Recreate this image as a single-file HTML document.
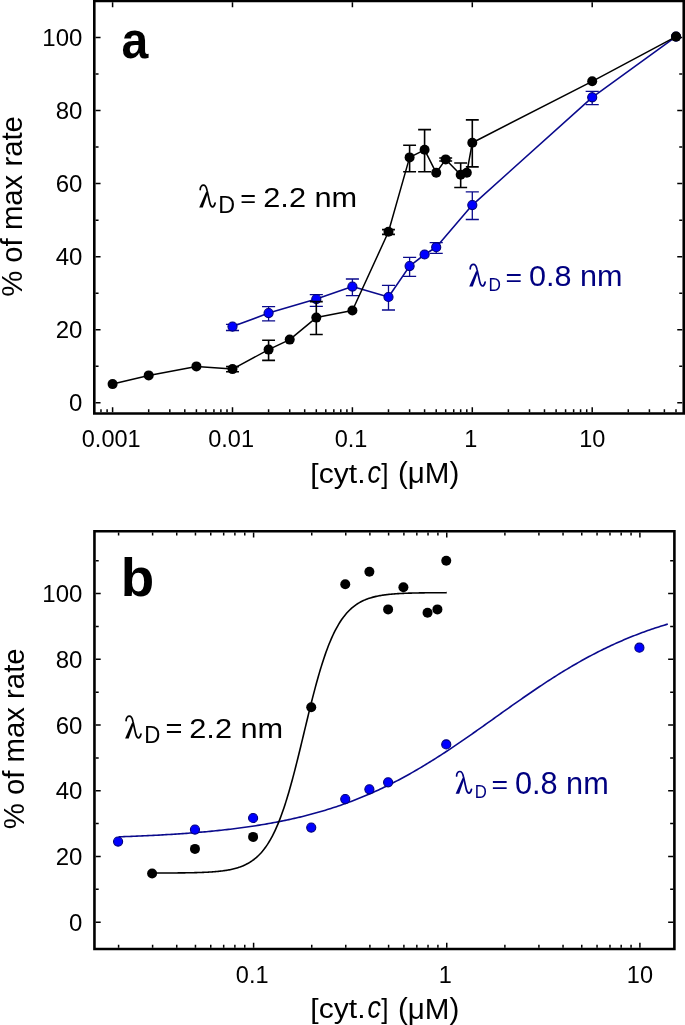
<!DOCTYPE html>
<html><head><meta charset="utf-8"><style>
html,body{margin:0;padding:0;background:#fff;}
svg{display:block;will-change:transform;}
text{font-family:"Liberation Sans",sans-serif;}
</style></head><body>
<svg width="685" height="1025" viewBox="0 0 685 1025">
<rect width="685" height="1025" fill="#fff"/>
<path d="M93.0,0.9H685.05M93.0,413.5H685.05M94.3,-0.4V414.8M683.75,-0.4V414.8" fill="none" stroke="#000" stroke-width="2.6"/>
<path d="M112.60,412.25v-5M112.60,2.15v5M232.50,412.25v-5M232.50,2.15v5M352.40,412.25v-5M352.40,2.15v5M472.30,412.25v-5M472.30,2.15v5M592.20,412.25v-5M592.20,2.15v5M100.98,412.25v-3M107.11,412.25v-3M148.69,412.25v-3M169.81,412.25v-3M184.79,412.25v-3M196.41,412.25v-3M205.90,412.25v-3M213.93,412.25v-3M220.88,412.25v-3M227.01,412.25v-3M268.59,412.25v-3M289.71,412.25v-3M304.69,412.25v-3M316.31,412.25v-3M325.80,412.25v-3M333.83,412.25v-3M340.78,412.25v-3M346.91,412.25v-3M388.49,412.25v-3M409.61,412.25v-3M424.59,412.25v-3M436.21,412.25v-3M445.70,412.25v-3M453.73,412.25v-3M460.68,412.25v-3M466.81,412.25v-3M508.39,412.25v-3M529.51,412.25v-3M544.49,412.25v-3M556.11,412.25v-3M565.60,412.25v-3M573.63,412.25v-3M580.58,412.25v-3M586.71,412.25v-3M628.29,412.25v-3M649.41,412.25v-3M664.39,412.25v-3M676.01,412.25v-3M95.55,402.80h5M682.25,402.80h-5M95.55,329.74h5M682.25,329.74h-5M95.55,256.68h5M682.25,256.68h-5M95.55,183.62h5M682.25,183.62h-5M95.55,110.56h5M682.25,110.56h-5M95.55,37.50h5M682.25,37.50h-5M95.55,366.27h3M682.25,366.27h-3M95.55,293.21h3M682.25,293.21h-3M95.55,220.15h3M682.25,220.15h-3M95.55,147.09h3M682.25,147.09h-3M95.55,74.03h3M682.25,74.03h-3" stroke="#000" stroke-width="1.5" fill="none"/>
<path d="M93.15,531.2H675.6999999999999M93.15,949.0H675.6999999999999M94.45,529.9000000000001V950.3M674.4,529.9000000000001V950.3" fill="none" stroke="#000" stroke-width="2.6"/>
<path d="M253.60,947.75v-5M253.60,532.45v5M446.75,947.75v-5M446.75,532.45v5M639.90,947.75v-5M639.90,532.45v5M118.59,947.75v-3M118.59,532.45v3M152.61,947.75v-3M152.61,532.45v3M176.74,947.75v-3M176.74,532.45v3M195.46,947.75v-3M195.46,532.45v3M210.75,947.75v-3M210.75,532.45v3M223.68,947.75v-3M223.68,532.45v3M234.88,947.75v-3M234.88,532.45v3M244.76,947.75v-3M244.76,532.45v3M311.74,947.75v-3M311.74,532.45v3M345.76,947.75v-3M345.76,532.45v3M369.89,947.75v-3M369.89,532.45v3M388.61,947.75v-3M388.61,532.45v3M403.90,947.75v-3M403.90,532.45v3M416.83,947.75v-3M416.83,532.45v3M428.03,947.75v-3M428.03,532.45v3M437.91,947.75v-3M437.91,532.45v3M504.89,947.75v-3M504.89,532.45v3M538.91,947.75v-3M538.91,532.45v3M563.04,947.75v-3M563.04,532.45v3M581.76,947.75v-3M581.76,532.45v3M597.05,947.75v-3M597.05,532.45v3M609.98,947.75v-3M609.98,532.45v3M621.18,947.75v-3M621.18,532.45v3M631.06,947.75v-3M631.06,532.45v3M95.7,922.20h5M673.15,922.20h-5M95.7,856.48h5M673.15,856.48h-5M95.7,790.76h5M673.15,790.76h-5M95.7,725.04h5M673.15,725.04h-5M95.7,659.32h5M673.15,659.32h-5M95.7,593.60h5M673.15,593.60h-5M95.7,889.34h3M673.15,889.34h-3M95.7,823.62h3M673.15,823.62h-3M95.7,757.90h3M673.15,757.90h-3M95.7,692.18h3M673.15,692.18h-3M95.7,626.46h3M673.15,626.46h-3M95.7,560.74h3M673.15,560.74h-3" stroke="#000" stroke-width="1.5" fill="none"/>
<path d="M232.50,326.60 L268.59,313.10 L316.31,299.10 L352.40,286.60 L388.49,297.00 L409.61,266.10 L424.59,254.50 L436.21,247.20 L472.30,205.10 L592.20,97.30 L676.01,36.60" fill="none" stroke="#0a0a8c" stroke-width="1.6" stroke-linejoin="round"/>
<path d="M232.50,324.30V330.50M225.95,324.30h13.1M225.95,330.50h13.1M268.59,306.60V320.90M262.04,306.60h13.1M262.04,320.90h13.1M316.31,294.70V306.30M309.76,294.70h13.1M309.76,306.30h13.1M352.40,279.00V295.70M345.85,279.00h13.1M345.85,295.70h13.1M388.49,285.30V310.00M381.94,285.30h13.1M381.94,310.00h13.1M409.61,257.30V276.30M403.06,257.30h13.1M403.06,276.30h13.1M436.21,242.60V253.30M429.66,242.60h13.1M429.66,253.30h13.1M472.30,191.80V219.50M465.75,191.80h13.1M465.75,219.50h13.1M592.20,91.45V104.70M585.65,91.45h13.1M585.65,104.70h13.1" fill="none" stroke="#0a0a8c" stroke-width="1.3"/>
<circle cx="232.50" cy="326.60" r="4.55" fill="#0000ff" stroke="#00007a" stroke-width="1.1"/>
<circle cx="268.59" cy="313.10" r="4.55" fill="#0000ff" stroke="#00007a" stroke-width="1.1"/>
<circle cx="316.31" cy="299.10" r="4.55" fill="#0000ff" stroke="#00007a" stroke-width="1.1"/>
<circle cx="352.40" cy="286.60" r="4.55" fill="#0000ff" stroke="#00007a" stroke-width="1.1"/>
<circle cx="388.49" cy="297.00" r="4.55" fill="#0000ff" stroke="#00007a" stroke-width="1.1"/>
<circle cx="409.61" cy="266.10" r="4.55" fill="#0000ff" stroke="#00007a" stroke-width="1.1"/>
<circle cx="424.59" cy="254.50" r="4.55" fill="#0000ff" stroke="#00007a" stroke-width="1.1"/>
<circle cx="436.21" cy="247.20" r="4.55" fill="#0000ff" stroke="#00007a" stroke-width="1.1"/>
<circle cx="472.30" cy="205.10" r="4.55" fill="#0000ff" stroke="#00007a" stroke-width="1.1"/>
<circle cx="592.20" cy="97.30" r="4.55" fill="#0000ff" stroke="#00007a" stroke-width="1.1"/>
<circle cx="676.01" cy="36.60" r="4.55" fill="#0000ff" stroke="#00007a" stroke-width="1.1"/>
<path d="M112.60,384.10 L148.69,375.40 L196.41,366.40 L232.50,369.10 L268.59,349.60 L289.71,339.60 L316.31,317.60 L352.40,310.50 L388.49,231.80 L409.61,157.40 L424.59,149.80 L436.21,172.80 L445.70,159.40 L460.68,174.80 L466.81,172.80 L472.30,142.75 L592.20,81.30 L676.01,36.60" fill="none" stroke="#000" stroke-width="1.5" stroke-linejoin="round"/>
<path d="M232.50,366.60V371.80M226.05,366.60h12.9M226.05,371.80h12.9M268.59,340.20V360.40M262.14,340.20h12.9M262.14,360.40h12.9M316.31,301.60V334.50M309.86,301.60h12.9M309.86,334.50h12.9M388.49,229.60V234.40M382.04,229.60h12.9M382.04,234.40h12.9M409.61,145.20V171.80M403.16,145.20h12.9M403.16,171.80h12.9M424.59,129.60V171.80M418.14,129.60h12.9M418.14,171.80h12.9M445.70,158.00V161.00M439.25,158.00h12.9M439.25,161.00h12.9M460.68,163.00V187.50M454.23,163.00h12.9M454.23,187.50h12.9M472.30,119.90V166.90M465.85,119.90h12.9M465.85,166.90h12.9" fill="none" stroke="#000" stroke-width="1.6"/>
<circle cx="112.60" cy="384.10" r="5.0" fill="#000"/>
<circle cx="148.69" cy="375.40" r="5.0" fill="#000"/>
<circle cx="196.41" cy="366.40" r="5.0" fill="#000"/>
<circle cx="232.50" cy="369.10" r="5.0" fill="#000"/>
<circle cx="268.59" cy="349.60" r="5.0" fill="#000"/>
<circle cx="289.71" cy="339.60" r="5.0" fill="#000"/>
<circle cx="316.31" cy="317.60" r="5.0" fill="#000"/>
<circle cx="352.40" cy="310.50" r="5.0" fill="#000"/>
<circle cx="388.49" cy="231.80" r="5.0" fill="#000"/>
<circle cx="409.61" cy="157.40" r="5.0" fill="#000"/>
<circle cx="424.59" cy="149.80" r="5.0" fill="#000"/>
<circle cx="436.21" cy="172.80" r="5.0" fill="#000"/>
<circle cx="445.70" cy="159.40" r="5.0" fill="#000"/>
<circle cx="460.68" cy="174.80" r="5.0" fill="#000"/>
<circle cx="466.81" cy="172.80" r="5.0" fill="#000"/>
<circle cx="472.30" cy="142.75" r="5.0" fill="#000"/>
<circle cx="592.20" cy="81.30" r="5.0" fill="#000"/>
<circle cx="676.01" cy="36.60" r="5.0" fill="#000"/>
<path d="M118.59,836.83 L120.42,836.77 L122.26,836.71 L124.09,836.64 L125.92,836.57 L127.75,836.50 L129.58,836.43 L131.41,836.36 L133.24,836.29 L135.07,836.21 L136.90,836.13 L138.73,836.06 L140.56,835.98 L142.39,835.89 L144.22,835.81 L146.06,835.73 L147.89,835.64 L149.72,835.55 L151.55,835.46 L153.38,835.37 L155.21,835.27 L157.04,835.18 L158.87,835.08 L160.70,834.98 L162.53,834.88 L164.36,834.77 L166.19,834.66 L168.02,834.56 L169.86,834.44 L171.69,834.33 L173.52,834.22 L175.35,834.10 L177.18,833.98 L179.01,833.85 L180.84,833.73 L182.67,833.60 L184.50,833.47 L186.33,833.34 L188.16,833.20 L189.99,833.06 L191.82,832.92 L193.66,832.77 L195.49,832.63 L197.32,832.48 L199.15,832.32 L200.98,832.16 L202.81,832.00 L204.64,831.84 L206.47,831.68 L208.30,831.51 L210.13,831.33 L211.96,831.16 L213.79,830.98 L215.62,830.79 L217.46,830.60 L219.29,830.41 L221.12,830.22 L222.95,830.02 L224.78,829.82 L226.61,829.61 L228.44,829.40 L230.27,829.18 L232.10,828.96 L233.93,828.74 L235.76,828.51 L237.59,828.28 L239.42,828.04 L241.26,827.80 L243.09,827.55 L244.92,827.30 L246.75,827.05 L248.58,826.78 L250.41,826.52 L252.24,826.25 L254.07,825.97 L255.90,825.69 L257.73,825.40 L259.56,825.11 L261.39,824.81 L263.22,824.51 L265.06,824.20 L266.89,823.88 L268.72,823.56 L270.55,823.24 L272.38,822.90 L274.21,822.56 L276.04,822.22 L277.87,821.87 L279.70,821.51 L281.53,821.14 L283.36,820.77 L285.19,820.39 L287.02,820.01 L288.86,819.61 L290.69,819.21 L292.52,818.81 L294.35,818.39 L296.18,817.97 L298.01,817.54 L299.84,817.11 L301.67,816.66 L303.50,816.21 L305.33,815.75 L307.16,815.29 L308.99,814.81 L310.82,814.33 L312.66,813.83 L314.49,813.33 L316.32,812.83 L318.15,812.31 L319.98,811.78 L321.81,811.25 L323.64,810.71 L325.47,810.15 L327.30,809.59 L329.13,809.02 L330.96,808.44 L332.79,807.85 L334.62,807.25 L336.46,806.65 L338.29,806.03 L340.12,805.40 L341.95,804.77 L343.78,804.12 L345.61,803.46 L347.44,802.80 L349.27,802.12 L351.10,801.44 L352.93,800.74 L354.76,800.03 L356.59,799.32 L358.42,798.59 L360.26,797.85 L362.09,797.11 L363.92,796.35 L365.75,795.58 L367.58,794.80 L369.41,794.01 L371.24,793.21 L373.07,792.40 L374.90,791.58 L376.73,790.75 L378.56,789.90 L380.39,789.05 L382.22,788.18 L384.06,787.31 L385.89,786.42 L387.72,785.53 L389.55,784.62 L391.38,783.70 L393.21,782.77 L395.04,781.83 L396.87,780.88 L398.70,779.92 L400.53,778.95 L402.36,777.97 L404.19,776.98 L406.02,775.97 L407.86,774.96 L409.69,773.94 L411.52,772.91 L413.35,771.86 L415.18,770.81 L417.01,769.75 L418.84,768.68 L420.67,767.59 L422.50,766.50 L424.33,765.40 L426.16,764.29 L427.99,763.17 L429.82,762.04 L431.66,760.91 L433.49,759.76 L435.32,758.61 L437.15,757.44 L438.98,756.27 L440.81,755.09 L442.64,753.91 L444.47,752.71 L446.30,751.51 L448.13,750.30 L449.96,749.09 L451.79,747.87 L453.62,746.64 L455.46,745.40 L457.29,744.16 L459.12,742.92 L460.95,741.66 L462.78,740.41 L464.61,739.14 L466.44,737.88 L468.27,736.60 L470.10,735.33 L471.93,734.05 L473.76,732.77 L475.59,731.48 L477.42,730.19 L479.26,728.90 L481.09,727.60 L482.92,726.30 L484.75,725.00 L486.58,723.70 L488.41,722.40 L490.24,721.09 L492.07,719.79 L493.90,718.48 L495.73,717.18 L497.56,715.87 L499.39,714.57 L501.22,713.26 L503.06,711.96 L504.89,710.66 L506.72,709.36 L508.55,708.06 L510.38,706.76 L512.21,705.47 L514.04,704.18 L515.87,702.89 L517.70,701.60 L519.53,700.32 L521.36,699.04 L523.19,697.77 L525.02,696.50 L526.86,695.23 L528.69,693.98 L530.52,692.72 L532.35,691.47 L534.18,690.23 L536.01,688.99 L537.84,687.76 L539.67,686.53 L541.50,685.32 L543.33,684.11 L545.16,682.90 L546.99,681.70 L548.82,680.51 L550.66,679.33 L552.49,678.16 L554.32,676.99 L556.15,675.83 L557.98,674.68 L559.81,673.54 L561.64,672.41 L563.47,671.29 L565.30,670.17 L567.13,669.07 L568.96,667.97 L570.79,666.89 L572.62,665.81 L574.46,664.74 L576.29,663.69 L578.12,662.64 L579.95,661.60 L581.78,660.57 L583.61,659.56 L585.44,658.55 L587.27,657.55 L589.10,656.57 L590.93,655.59 L592.76,654.63 L594.59,653.67 L596.42,652.73 L598.26,651.80 L600.09,650.87 L601.92,649.96 L603.75,649.06 L605.58,648.17 L607.41,647.29 L609.24,646.42 L611.07,645.56 L612.90,644.71 L614.73,643.88 L616.56,643.05 L618.39,642.23 L620.22,641.43 L622.06,640.64 L623.89,639.85 L625.72,639.08 L627.55,638.32 L629.38,637.56 L631.21,636.82 L633.04,636.09 L634.87,635.37 L636.70,634.66 L638.53,633.96 L640.36,633.27 L642.19,632.59 L644.02,631.92 L645.86,631.26 L647.69,630.61 L649.52,629.97 L651.35,629.34 L653.18,628.71 L655.01,628.10 L656.84,627.50 L658.67,626.91 L660.50,626.32 L662.33,625.75 L664.16,625.18 L665.99,624.63 L667.82,624.08" fill="none" stroke="#0a0a8c" stroke-width="1.6"/>
<path d="M152.61,873.04 L153.59,873.04 L154.57,873.04 L155.55,873.03 L156.53,873.03 L157.51,873.03 L158.49,873.03 L159.47,873.02 L160.45,873.02 L161.43,873.02 L162.41,873.01 L163.39,873.01 L164.37,873.01 L165.35,873.00 L166.33,873.00 L167.31,872.99 L168.29,872.99 L169.27,872.98 L170.25,872.98 L171.24,872.97 L172.22,872.96 L173.20,872.96 L174.18,872.95 L175.16,872.94 L176.14,872.93 L177.12,872.93 L178.10,872.92 L179.08,872.91 L180.06,872.90 L181.04,872.89 L182.02,872.88 L183.00,872.86 L183.98,872.85 L184.96,872.84 L185.94,872.82 L186.92,872.81 L187.90,872.79 L188.88,872.78 L189.86,872.76 L190.84,872.74 L191.83,872.72 L192.81,872.70 L193.79,872.68 L194.77,872.65 L195.75,872.63 L196.73,872.60 L197.71,872.57 L198.69,872.54 L199.67,872.51 L200.65,872.48 L201.63,872.44 L202.61,872.40 L203.59,872.36 L204.57,872.32 L205.55,872.27 L206.53,872.23 L207.51,872.18 L208.49,872.12 L209.47,872.06 L210.45,872.00 L211.43,871.94 L212.42,871.87 L213.40,871.80 L214.38,871.72 L215.36,871.64 L216.34,871.56 L217.32,871.47 L218.30,871.37 L219.28,871.27 L220.26,871.16 L221.24,871.05 L222.22,870.93 L223.20,870.80 L224.18,870.66 L225.16,870.52 L226.14,870.37 L227.12,870.21 L228.10,870.04 L229.08,869.86 L230.06,869.67 L231.04,869.46 L232.02,869.25 L233.01,869.02 L233.99,868.78 L234.97,868.53 L235.95,868.26 L236.93,867.98 L237.91,867.68 L238.89,867.36 L239.87,867.03 L240.85,866.67 L241.83,866.30 L242.81,865.90 L243.79,865.48 L244.77,865.04 L245.75,864.57 L246.73,864.07 L247.71,863.55 L248.69,863.00 L249.67,862.42 L250.65,861.80 L251.63,861.16 L252.61,860.47 L253.60,859.75 L254.58,858.99 L255.56,858.19 L256.54,857.35 L257.52,856.46 L258.50,855.52 L259.48,854.54 L260.46,853.50 L261.44,852.41 L262.42,851.27 L263.40,850.07 L264.38,848.81 L265.36,847.48 L266.34,846.09 L267.32,844.64 L268.30,843.11 L269.28,841.51 L270.26,839.84 L271.24,838.10 L272.22,836.27 L273.21,834.36 L274.19,832.38 L275.17,830.31 L276.15,828.15 L277.13,825.90 L278.11,823.57 L279.09,821.15 L280.07,818.63 L281.05,816.03 L282.03,813.33 L283.01,810.55 L283.99,807.67 L284.97,804.70 L285.95,801.63 L286.93,798.49 L287.91,795.25 L288.89,791.93 L289.87,788.52 L290.85,785.04 L291.83,781.48 L292.81,777.84 L293.80,774.14 L294.78,770.38 L295.76,766.55 L296.74,762.67 L297.72,758.74 L298.70,754.77 L299.68,750.77 L300.66,746.73 L301.64,742.67 L302.62,738.59 L303.60,734.51 L304.58,730.42 L305.56,726.33 L306.54,722.26 L307.52,718.20 L308.50,714.17 L309.48,710.17 L310.46,706.21 L311.44,702.29 L312.42,698.42 L313.40,694.60 L314.39,690.85 L315.37,687.16 L316.35,683.54 L317.33,679.99 L318.31,676.52 L319.29,673.14 L320.27,669.83 L321.25,666.61 L322.23,663.48 L323.21,660.43 L324.19,657.48 L325.17,654.62 L326.15,651.84 L327.13,649.16 L328.11,646.58 L329.09,644.08 L330.07,641.68 L331.05,639.36 L332.03,637.13 L333.01,634.99 L333.99,632.93 L334.98,630.96 L335.96,629.07 L336.94,627.26 L337.92,625.53 L338.90,623.87 L339.88,622.29 L340.86,620.78 L341.84,619.33 L342.82,617.95 L343.80,616.64 L344.78,615.39 L345.76,614.20 L346.74,613.07 L347.72,611.99 L348.70,610.96 L349.68,609.99 L350.66,609.06 L351.64,608.18 L352.62,607.34 L353.60,606.55 L354.58,605.80 L355.57,605.09 L356.55,604.41 L357.53,603.77 L358.51,603.16 L359.49,602.58 L360.47,602.04 L361.45,601.52 L362.43,601.03 L363.41,600.57 L364.39,600.13 L365.37,599.71 L366.35,599.32 L367.33,598.95 L368.31,598.60 L369.29,598.27 L370.27,597.95 L371.25,597.65 L372.23,597.37 L373.21,597.11 L374.19,596.86 L375.17,596.62 L376.16,596.40 L377.14,596.19 L378.12,595.99 L379.10,595.80 L380.08,595.62 L381.06,595.45 L382.04,595.29 L383.02,595.14 L384.00,595.00 L384.98,594.86 L385.96,594.74 L386.94,594.62 L387.92,594.51 L388.90,594.40 L389.88,594.30 L390.86,594.20 L391.84,594.11 L392.82,594.03 L393.80,593.95 L394.78,593.87 L395.77,593.80 L396.75,593.74 L397.73,593.67 L398.71,593.61 L399.69,593.56 L400.67,593.50 L401.65,593.45 L402.63,593.41 L403.61,593.36 L404.59,593.32 L405.57,593.28 L406.55,593.24 L407.53,593.21 L408.51,593.17 L409.49,593.14 L410.47,593.11 L411.45,593.08 L412.43,593.06 L413.41,593.03 L414.39,593.01 L415.37,592.99 L416.36,592.96 L417.34,592.94 L418.32,592.93 L419.30,592.91 L420.28,592.89 L421.26,592.88 L422.24,592.86 L423.22,592.85 L424.20,592.83 L425.18,592.82 L426.16,592.81 L427.14,592.80 L428.12,592.79 L429.10,592.78 L430.08,592.77 L431.06,592.76 L432.04,592.75 L433.02,592.74 L434.00,592.74 L434.98,592.73 L435.96,592.72 L436.95,592.72 L437.93,592.71 L438.91,592.71 L439.89,592.70 L440.87,592.70 L441.85,592.69 L442.83,592.69 L443.81,592.68 L444.79,592.68 L445.77,592.68 L446.75,592.67" fill="none" stroke="#000" stroke-width="1.6"/>
<circle cx="118.09" cy="841.60" r="4.55" fill="#0000ff" stroke="#00007a" stroke-width="1.1"/>
<circle cx="194.96" cy="829.60" r="4.55" fill="#0000ff" stroke="#00007a" stroke-width="1.1"/>
<circle cx="253.10" cy="818.00" r="4.55" fill="#0000ff" stroke="#00007a" stroke-width="1.1"/>
<circle cx="311.24" cy="827.60" r="4.55" fill="#0000ff" stroke="#00007a" stroke-width="1.1"/>
<circle cx="345.26" cy="799.10" r="4.55" fill="#0000ff" stroke="#00007a" stroke-width="1.1"/>
<circle cx="369.39" cy="789.30" r="4.55" fill="#0000ff" stroke="#00007a" stroke-width="1.1"/>
<circle cx="388.11" cy="782.30" r="4.55" fill="#0000ff" stroke="#00007a" stroke-width="1.1"/>
<circle cx="446.25" cy="744.40" r="4.55" fill="#0000ff" stroke="#00007a" stroke-width="1.1"/>
<circle cx="639.40" cy="647.70" r="4.55" fill="#0000ff" stroke="#00007a" stroke-width="1.1"/>
<circle cx="152.11" cy="873.50" r="5.0" fill="#000"/>
<circle cx="194.96" cy="848.90" r="5.0" fill="#000"/>
<circle cx="253.10" cy="836.90" r="5.0" fill="#000"/>
<circle cx="311.24" cy="707.20" r="5.0" fill="#000"/>
<circle cx="345.26" cy="584.20" r="5.0" fill="#000"/>
<circle cx="369.39" cy="571.80" r="5.0" fill="#000"/>
<circle cx="388.11" cy="609.40" r="5.0" fill="#000"/>
<circle cx="403.40" cy="587.20" r="5.0" fill="#000"/>
<circle cx="427.53" cy="612.70" r="5.0" fill="#000"/>
<circle cx="437.41" cy="609.40" r="5.0" fill="#000"/>
<circle cx="446.25" cy="560.70" r="5.0" fill="#000"/>
<text x="82.40" y="411.30" font-size="24" text-anchor="end" >0</text>
<text x="82.40" y="930.70" font-size="24" text-anchor="end" >0</text>
<text x="82.40" y="338.24" font-size="24" text-anchor="end" >20</text>
<text x="82.40" y="864.98" font-size="24" text-anchor="end" >20</text>
<text x="82.40" y="265.18" font-size="24" text-anchor="end" >40</text>
<text x="82.40" y="799.26" font-size="24" text-anchor="end" >40</text>
<text x="82.40" y="192.12" font-size="24" text-anchor="end" >60</text>
<text x="82.40" y="733.54" font-size="24" text-anchor="end" >60</text>
<text x="82.40" y="119.06" font-size="24" text-anchor="end" >80</text>
<text x="82.40" y="667.82" font-size="24" text-anchor="end" >80</text>
<text x="82.40" y="46.00" font-size="24" text-anchor="end" >100</text>
<text x="82.40" y="602.10" font-size="24" text-anchor="end" >100</text>
<text x="111.20" y="447.30" font-size="23.5" text-anchor="middle" >0.001</text>
<text x="231.10" y="447.30" font-size="23.5" text-anchor="middle" >0.01</text>
<text x="351.00" y="447.30" font-size="23.5" text-anchor="middle" >0.1</text>
<text x="470.90" y="447.30" font-size="23.5" text-anchor="middle" >1</text>
<text x="592.20" y="447.30" font-size="23.5" text-anchor="middle" >10</text>
<text x="252.20" y="982.70" font-size="23.5" text-anchor="middle" >0.1</text>
<text x="445.35" y="982.70" font-size="23.5" text-anchor="middle" >1</text>
<text x="639.90" y="982.70" font-size="23.5" text-anchor="middle" >10</text>
<text transform="matrix(0.30144,0,0,0.28296,310.260,482.814)" font-size="100" fill="#000">[cyt.</text>
<text transform="matrix(0.26974,0,0,0.30474,367.410,483.195)" font-size="100" font-style="italic" fill="#000">c</text>
<text transform="matrix(0.26131,0,0,0.28189,381.291,482.837)" font-size="100" fill="#000">]</text>
<text transform="matrix(0.29575,0,0,0.30043,397.966,483.381)" font-size="100" fill="#000">(μM)</text>
<text transform="matrix(0.30144,0,0,0.28296,310.260,1018.014)" font-size="100" fill="#000">[cyt.</text>
<text transform="matrix(0.26974,0,0,0.30474,367.410,1018.395)" font-size="100" font-style="italic" fill="#000">c</text>
<text transform="matrix(0.26131,0,0,0.28189,381.291,1018.037)" font-size="100" fill="#000">]</text>
<text transform="matrix(0.29575,0,0,0.30043,397.966,1018.581)" font-size="100" fill="#000">(μM)</text>
<text transform="translate(21.8,206.5) rotate(-90)" x="0" y="0" font-size="29.3" text-anchor="middle">% of max rate</text>
<text transform="translate(24.1,738.8) rotate(-90)" x="0" y="0" font-size="29.3" text-anchor="middle">% of max rate</text>
<text transform="matrix(0.48218,0,0,0.51825,121.602,57.982)" font-size="100" font-weight="bold" fill="#000">a</text>
<text transform="matrix(0.54762,0,0,0.52789,120.686,596.472)" font-size="100" font-weight="bold" fill="#000">b</text>
<g transform="translate(199.2,184.20) scale(1.0000,1.0000)"><path d="M1.0,5.4 C1.0,2.2 2.8,1.0 4.2,1.0 C6.0,1.0 7.2,3.0 7.8,6.0 L10.6,18.5 C11.2,21.2 12.2,22.6 13.4,22.6 C14.6,22.6 15.5,20.6 15.9,18.8" fill="none" stroke="#000" stroke-width="1.7" stroke-linecap="round"/><path d="M6.9,7.6 L8.7,8.6 L3.6,23.2 L0.0,23.2 Z" fill="#000"/></g>
<text transform="matrix(0.23311,0,0,0.24273,218.189,212.500)" font-size="100" fill="#000">D</text>
<text transform="matrix(0.27160,0,0,0.26398,240.269,206.735)" font-size="100" fill="#000">=</text>
<text transform="matrix(0.30738,0,0,0.28223,263.263,207.000)" font-size="100" fill="#000">2.2 nm</text>
<g transform="translate(469.2,263.40) scale(1.0000,1.0000)"><path d="M1.0,5.4 C1.0,2.2 2.8,1.0 4.2,1.0 C6.0,1.0 7.2,3.0 7.8,6.0 L10.6,18.5 C11.2,21.2 12.2,22.6 13.4,22.6 C14.6,22.6 15.5,20.6 15.9,18.8" fill="none" stroke="#000080" stroke-width="1.7" stroke-linecap="round"/><path d="M6.9,7.6 L8.7,8.6 L3.6,23.2 L0.0,23.2 Z" fill="#000080"/></g>
<text transform="matrix(0.17230,0,0,0.17733,488.387,291.200)" font-size="100" fill="#000080">D</text>
<text transform="matrix(0.28395,0,0,0.26708,505.609,286.187)" font-size="100" fill="#000080">=</text>
<text transform="matrix(0.30589,0,0,0.30085,528.907,286.299)" font-size="100" fill="#000080">0.8 nm</text>
<g transform="translate(125.1,715.20) scale(1.0000,1.0000)"><path d="M1.0,5.4 C1.0,2.2 2.8,1.0 4.2,1.0 C6.0,1.0 7.2,3.0 7.8,6.0 L10.6,18.5 C11.2,21.2 12.2,22.6 13.4,22.6 C14.6,22.6 15.5,20.6 15.9,18.8" fill="none" stroke="#000" stroke-width="1.7" stroke-linecap="round"/><path d="M6.9,7.6 L8.7,8.6 L3.6,23.2 L0.0,23.2 Z" fill="#000"/></g>
<text transform="matrix(0.22297,0,0,0.24128,144.272,742.900)" font-size="100" fill="#000">D</text>
<text transform="matrix(0.29012,0,0,0.27019,165.578,737.539)" font-size="100" fill="#000">=</text>
<text transform="matrix(0.30738,0,0,0.28223,189.263,737.800)" font-size="100" fill="#000">2.2 nm</text>
<g transform="translate(455.6,770.50) scale(1.0000,1.0000)"><path d="M1.0,5.4 C1.0,2.2 2.8,1.0 4.2,1.0 C6.0,1.0 7.2,3.0 7.8,6.0 L10.6,18.5 C11.2,21.2 12.2,22.6 13.4,22.6 C14.6,22.6 15.5,20.6 15.9,18.8" fill="none" stroke="#000080" stroke-width="1.7" stroke-linecap="round"/><path d="M6.9,7.6 L8.7,8.6 L3.6,23.2 L0.0,23.2 Z" fill="#000080"/></g>
<text transform="matrix(0.16723,0,0,0.17733,474.729,798.200)" font-size="100" fill="#000080">D</text>
<text transform="matrix(0.28395,0,0,0.26708,491.509,793.187)" font-size="100" fill="#000080">=</text>
<text transform="matrix(0.30691,0,0,0.30650,514.903,793.794)" font-size="100" fill="#000080">0.8 nm</text>
</svg></body></html>
